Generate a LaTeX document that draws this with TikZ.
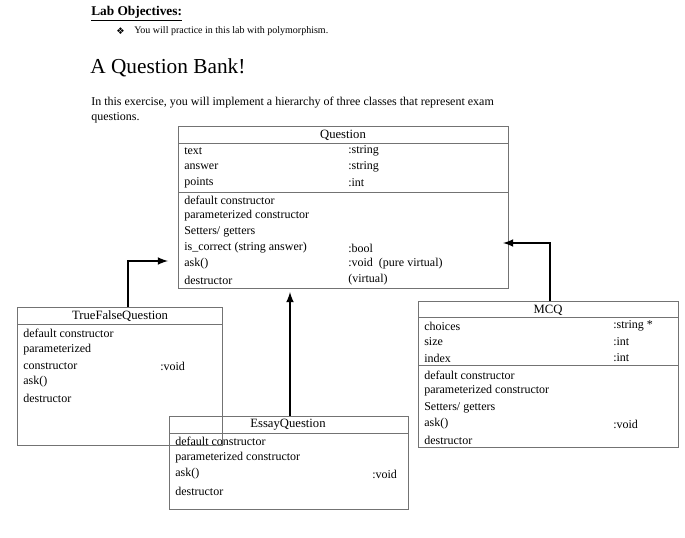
\documentclass[tikz,border=0pt]{standalone}
\usepackage{fontspec}
\setmainfont{Liberation Serif}
\newfontfamily\dejavu{DejaVu Sans}
\begin{document}
\begin{tikzpicture}[x=0.75pt,y=-0.75pt,
  box/.style={draw=black!55,line width=0.7pt},
  t/.style={anchor=west,inner sep=0pt,font=\fontsize{9}{10}\selectfont},
  ttl/.style={inner sep=0pt,font=\fontsize{9.5}{10}\selectfont},
  arr/.style={line width=1.6pt,-latex}]
\useasboundingbox (0,0) rectangle (685,538);
\node[anchor=west,inner sep=0pt,font=\bfseries\fontsize{10}{12}\selectfont] (lo) at (91,14) {\underline{Lab Objectives:}};
\node[anchor=west,inner sep=0pt,font=\dejavu\fontsize{7}{8}\selectfont] (bul) at (116,31) {❖};
\node[anchor=west,inner sep=0pt,font=\fontsize{7.5}{9}\selectfont] (obj) at (134,31) {You will practice in this lab with polymorphism.};
\node[anchor=west,inner sep=0pt,font=\fontsize{16}{18}\selectfont] (h) at (90,68) {A Question Bank!};
\node[anchor=west,inner sep=0pt,font=\fontsize{9}{10}\selectfont] (p1) at (91,103) {In this exercise, you will implement a hierarchy of three classes that represent exam};
\node[anchor=west,inner sep=0pt,font=\fontsize{9}{10}\selectfont] (p2) at (91,118) {questions.};
% Question
\draw[box] (178,126) rectangle (508,288);
\draw[box] (178,143) -- (508,143) (178,192) -- (508,192);
\coordinate (qtl) at (178,126); \coordinate (qbr) at (508,288);
\node[ttl] (qt) at (343,135) {Question};
\foreach \n/\a/\b/\y in {1/text/:string/151,2/answer/:string/167,3/points/:int/183,4/default constructor//200,5/parameterized constructor//216,6/Setters\slash\ getters//232,7/is\_correct (string answer)/:bool/248,8/ask()/:void\ \ (pure virtual)/264,9/destructor/(virtual)/280}{
  \node[t] (qa\n) at (184,\y) {\a};
  \node[t] (qb\n) at (348,\y) {\b};}
% TrueFalse
\draw[box] (17,307) rectangle (222,445);
\draw[box] (17,324) -- (222,324);
\coordinate (tf) at (128,307);
\node[ttl] (tft) at (120,316) {TrueFalseQuestion};
\foreach \n/\a/\y in {1/default constructor/333,2/parameterized/350,3/constructor/366,4/ask()/382,5/destructor/398}{
  \node[t] (tfa\n) at (23,\y) {\a};}
\node[t] (tfv) at (160,366) {:void};
% Essay
\draw[box] (169,416) rectangle (408,509);
\draw[box] (169,433) -- (408,433);
\coordinate (es) at (290,416);
\node[ttl] (est) at (288,425) {EssayQuestion};
\foreach \n/\a/\y in {1/default constructor/441,2/parameterized constructor/458,3/ask()/474,4/destructor/491}{
  \node[t] (esa\n) at (175,\y) {\a};}
\node[t] (esv) at (372,474) {:void};
% MCQ
\draw[box] (418,301) rectangle (678,447);
\draw[box] (418,317) -- (678,317) (418,365) -- (678,365);
\coordinate (mc) at (550,301);
\node[ttl] (mct) at (548,310) {MCQ};
\foreach \n/\a/\b/\y in {1/choices/:string */326,2/size/:int/342,3/index/:int/358,4/default constructor//375,5/parameterized constructor//391,6/Setters\slash\ getters//408,7/ask()/:void/424,8/destructor//440}{
  \node[t] (ma\n) at (424,\y) {\a};
  \node[t] (mb\n) at (613,\y) {\b};}
% arrows
\coordinate (q1) at (168,261);
\coordinate (q2) at (290,292);
\coordinate (q3) at (503,243);
\draw[arr] (tf) |- (q1);
\draw[arr] (es) -- (q2);
\draw[arr] (mc) |- (q3);
\end{tikzpicture}
\end{document}
